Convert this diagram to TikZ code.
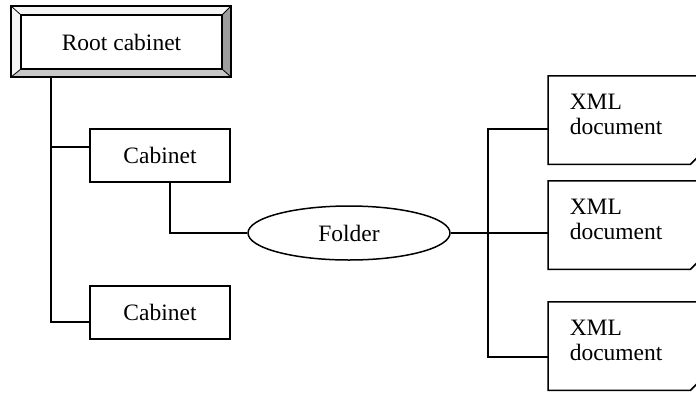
\documentclass[tikz,border=0pt]{standalone}
\usepackage{fontspec}
\setmainfont{Liberation Serif}
\usetikzlibrary{shapes.geometric}
\definecolor{bevlight}{gray}{0.96}
\definecolor{bevmid}{gray}{0.78}
\definecolor{bevdark}{gray}{0.62}
\definecolor{foldgray}{gray}{0.7}
\begin{document}
\begin{tikzpicture}[x=1pt,y=-1pt, line width=1.5pt,
  every node/.style={font=\fontsize{23.5}{25}\selectfont, inner sep=0pt},
  cabbox/.style={draw, rectangle, minimum width=140pt, minimum height=53pt},
  rootbox/.style={draw, rectangle, minimum width=201pt, minimum height=54pt},
  folderbox/.style={draw, ellipse, minimum width=202pt, minimum height=54pt},
  xmlbox/.style={rectangle, minimum width=149pt, minimum height=87pt, anchor=west},
  xmltext/.style={anchor=north west, align=left},
  xmlshape/.style={draw, line join=miter},
  link/.style={draw}]
\useasboundingbox (0,0) rectangle (696,392);
\clip (0,0) rectangle (696,392);
% root cabinet bevel
\fill[bevlight] (11,6) -- (231,6) -- (222,15) -- (21,15) -- cycle;
\fill[bevlight] (11,6) -- (21,15) -- (21,69) -- (11,77) -- cycle;
\fill[bevmid] (11,77) -- (21,69) -- (222,69) -- (231,77) -- cycle;
\fill[bevdark] (231,6) -- (231,77) -- (222,69) -- (222,15) -- cycle;
\draw[line width=0.8pt] (11,6) -- (21,15) (231,6) -- (222,15) (11,77) -- (21,69) (231,77) -- (222,69);
\draw (11,6) rectangle (231,77);
\node[rootbox] (root) at (121.5,42) {Root cabinet};
\coordinate (rb) at (51,77);
% cabinets
\node[cabbox] (cab1) at (160,155.5) {Cabinet};
\node[cabbox] (cab2) at (160,312.5) {Cabinet};
% folder
\node[folderbox] (folder) at (349,233) {Folder};
% xml documents
\node[xmlbox] (x1) at (548,120) {};
\node[xmlbox] (x2) at (548,225) {};
\node[xmlbox] (x3) at (548,346) {};
\foreach \d in {x1,x2,x3}{
  \fill[foldgray] ([xshift=-7pt]\d.south east) .. controls ([xshift=-3pt,yshift=4pt]\d.south east) .. ([yshift=5pt]\d.south east) -- ([yshift=8pt]\d.south east) -- cycle;
  \draw[xmlshape] (\d.north east) -- (\d.north west) -- (\d.south west) -- ([xshift=-8pt]\d.south east) -- ([yshift=8pt]\d.south east);
  \node[xmltext] at ([xshift=21pt,yshift=-18pt]\d.north west) {XML\\document};
}
% connectors
\draw[link] (rb) |- ([yshift=-9.5pt]cab2.west);
\draw[link] ([yshift=8.5pt]cab1.west) -| (rb);
\draw[link] ([xshift=10pt]cab1.south) |- (folder.west);
\coordinate (j) at (488,233);
\draw[link] (folder.east) -- (j);
\draw[link] ([yshift=-9pt]x1.west) -| (j);
\draw[link] (j) |- ([yshift=-11pt]x3.west);
\draw[link] (j) -- (x2.west |- j);
\end{tikzpicture}
\end{document}
